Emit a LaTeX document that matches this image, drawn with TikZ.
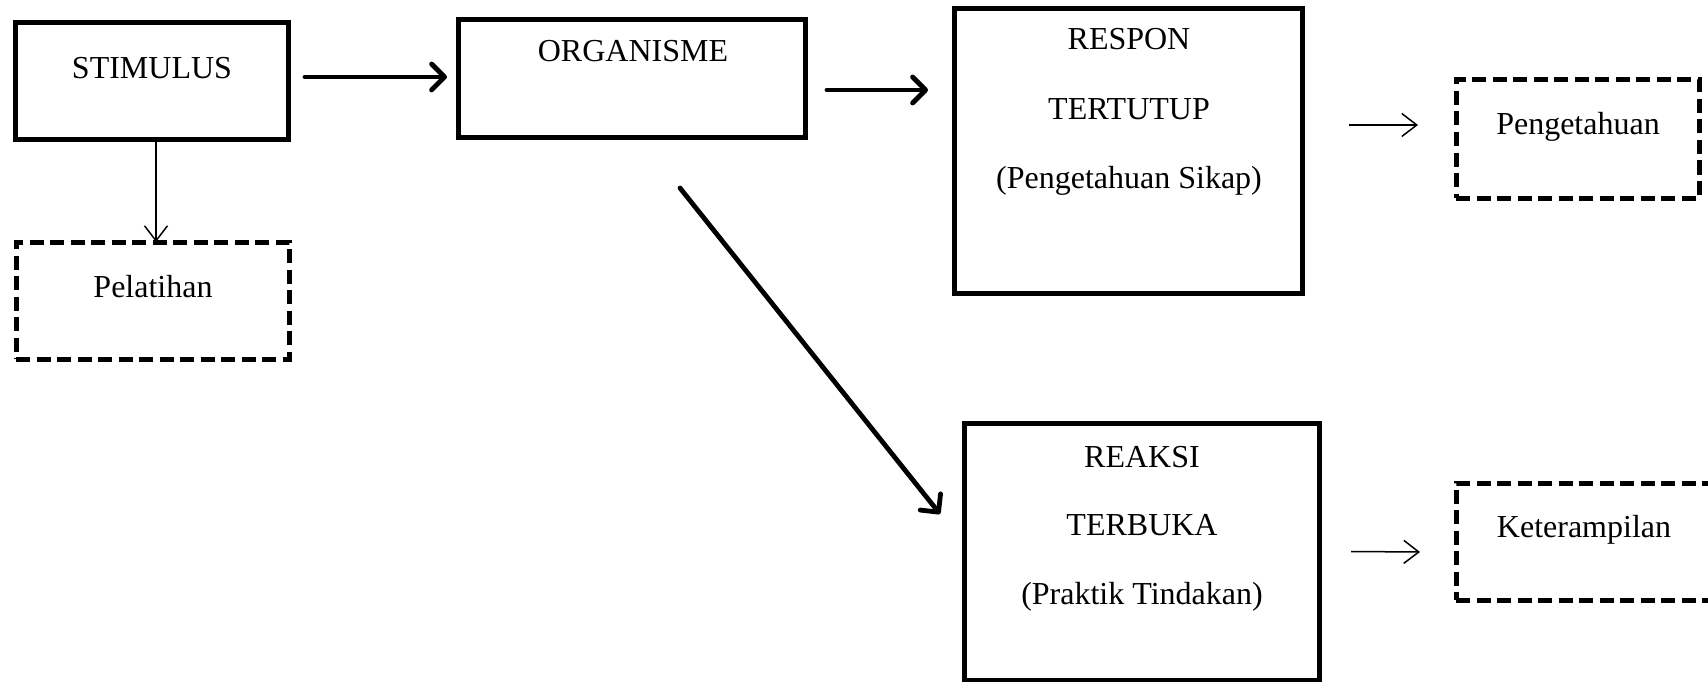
\documentclass[tikz,border=0pt]{standalone}
\usepackage{fontspec}
\setmainfont{Liberation Serif}
\usetikzlibrary{arrows.meta}
\begin{document}
\begin{tikzpicture}[x=1pt,y=-1pt,
  box/.style={draw, line width=5pt, rectangle, inner sep=0pt, outer sep=0pt},
  dbox/.style={box, dash pattern=on 14pt off 6.5pt},
  lab/.style={font=\fontsize{32}{38}\selectfont, anchor=base, inner sep=0pt},
  big/.style={line width=4.8pt, line cap=round, -{Straight Barb[length=13pt,width=26pt,round]}},
  thinarr/.style={line width=1.5pt, -{Straight Barb[length=15pt,width=23pt]}}]
\useasboundingbox (0,0) rectangle (1708,682);
% boxes
\node[box, minimum width=273pt, minimum height=117pt] (stim) at (151.5,81.5) {};
\node[dbox, minimum width=273pt, minimum height=117pt] (pel) at (152.5,300.5) {};
\node[box, minimum width=347pt, minimum height=118pt] (org) at (631.5,79) {};
\node[box, minimum width=348pt, minimum height=284pt] (resp) at (1128,151) {};
\node[dbox, minimum width=243pt, minimum height=118pt] (peng) at (1577.5,139) {};
\node[box, minimum width=355pt, minimum height=257pt] (reak) at (1141.5,551.5) {};
\node[dbox, minimum width=256pt, minimum height=117pt] (ket) at (1584,541.5) {};
% texts
\node[lab] (tstim) at (152,78.5) {STIMULUS};
\node[lab] (tpel) at (153,297) {Pelatihan};
\node[lab] (torg) at (633,62) {ORGANISME};
\node[lab] (tresp1) at (1129,50) {RESPON};
\node[lab] (tresp2) at (1129,120) {TERTUTUP};
\node[lab] (tresp3) at (1129,188) {(Pengetahuan Sikap)};
\node[lab] (tpeng) at (1578,135) {Pengetahuan};
\node[lab] (treak1) at (1142,467) {REAKSI};
\node[lab] (treak2) at (1142,535) {TERBUKA};
\node[lab] (treak3) at (1142,604) {(Praktik Tindakan)};
\node[lab] (tket) at (1584,537) {Keterampilan};
% connectors
\draw[big] ([xshift=17pt,yshift=4.5pt]stim.east) -- ([xshift=-11pt,yshift=2pt]org.west);
\draw[big] ([xshift=22pt,yshift=-11pt]org.east) -- ([xshift=-26pt,yshift=61pt]resp.west);
\draw[big] ([xshift=48.5pt,yshift=-50pt]org.south) -- ([xshift=-24pt,yshift=37.5pt]reak.west);
\draw[thinarr] ([xshift=47pt,yshift=26pt]resp.east) -- ([xshift=-38pt,yshift=14pt]peng.west);
\draw[thinarr] ([xshift=32pt]reak.east) -- ([xshift=-36pt,yshift=-10.5pt]ket.west);
\draw[thinarr] ([xshift=4.5pt]stim.south) -- ([xshift=3.5pt]pel.north);
\end{tikzpicture}
\end{document}
